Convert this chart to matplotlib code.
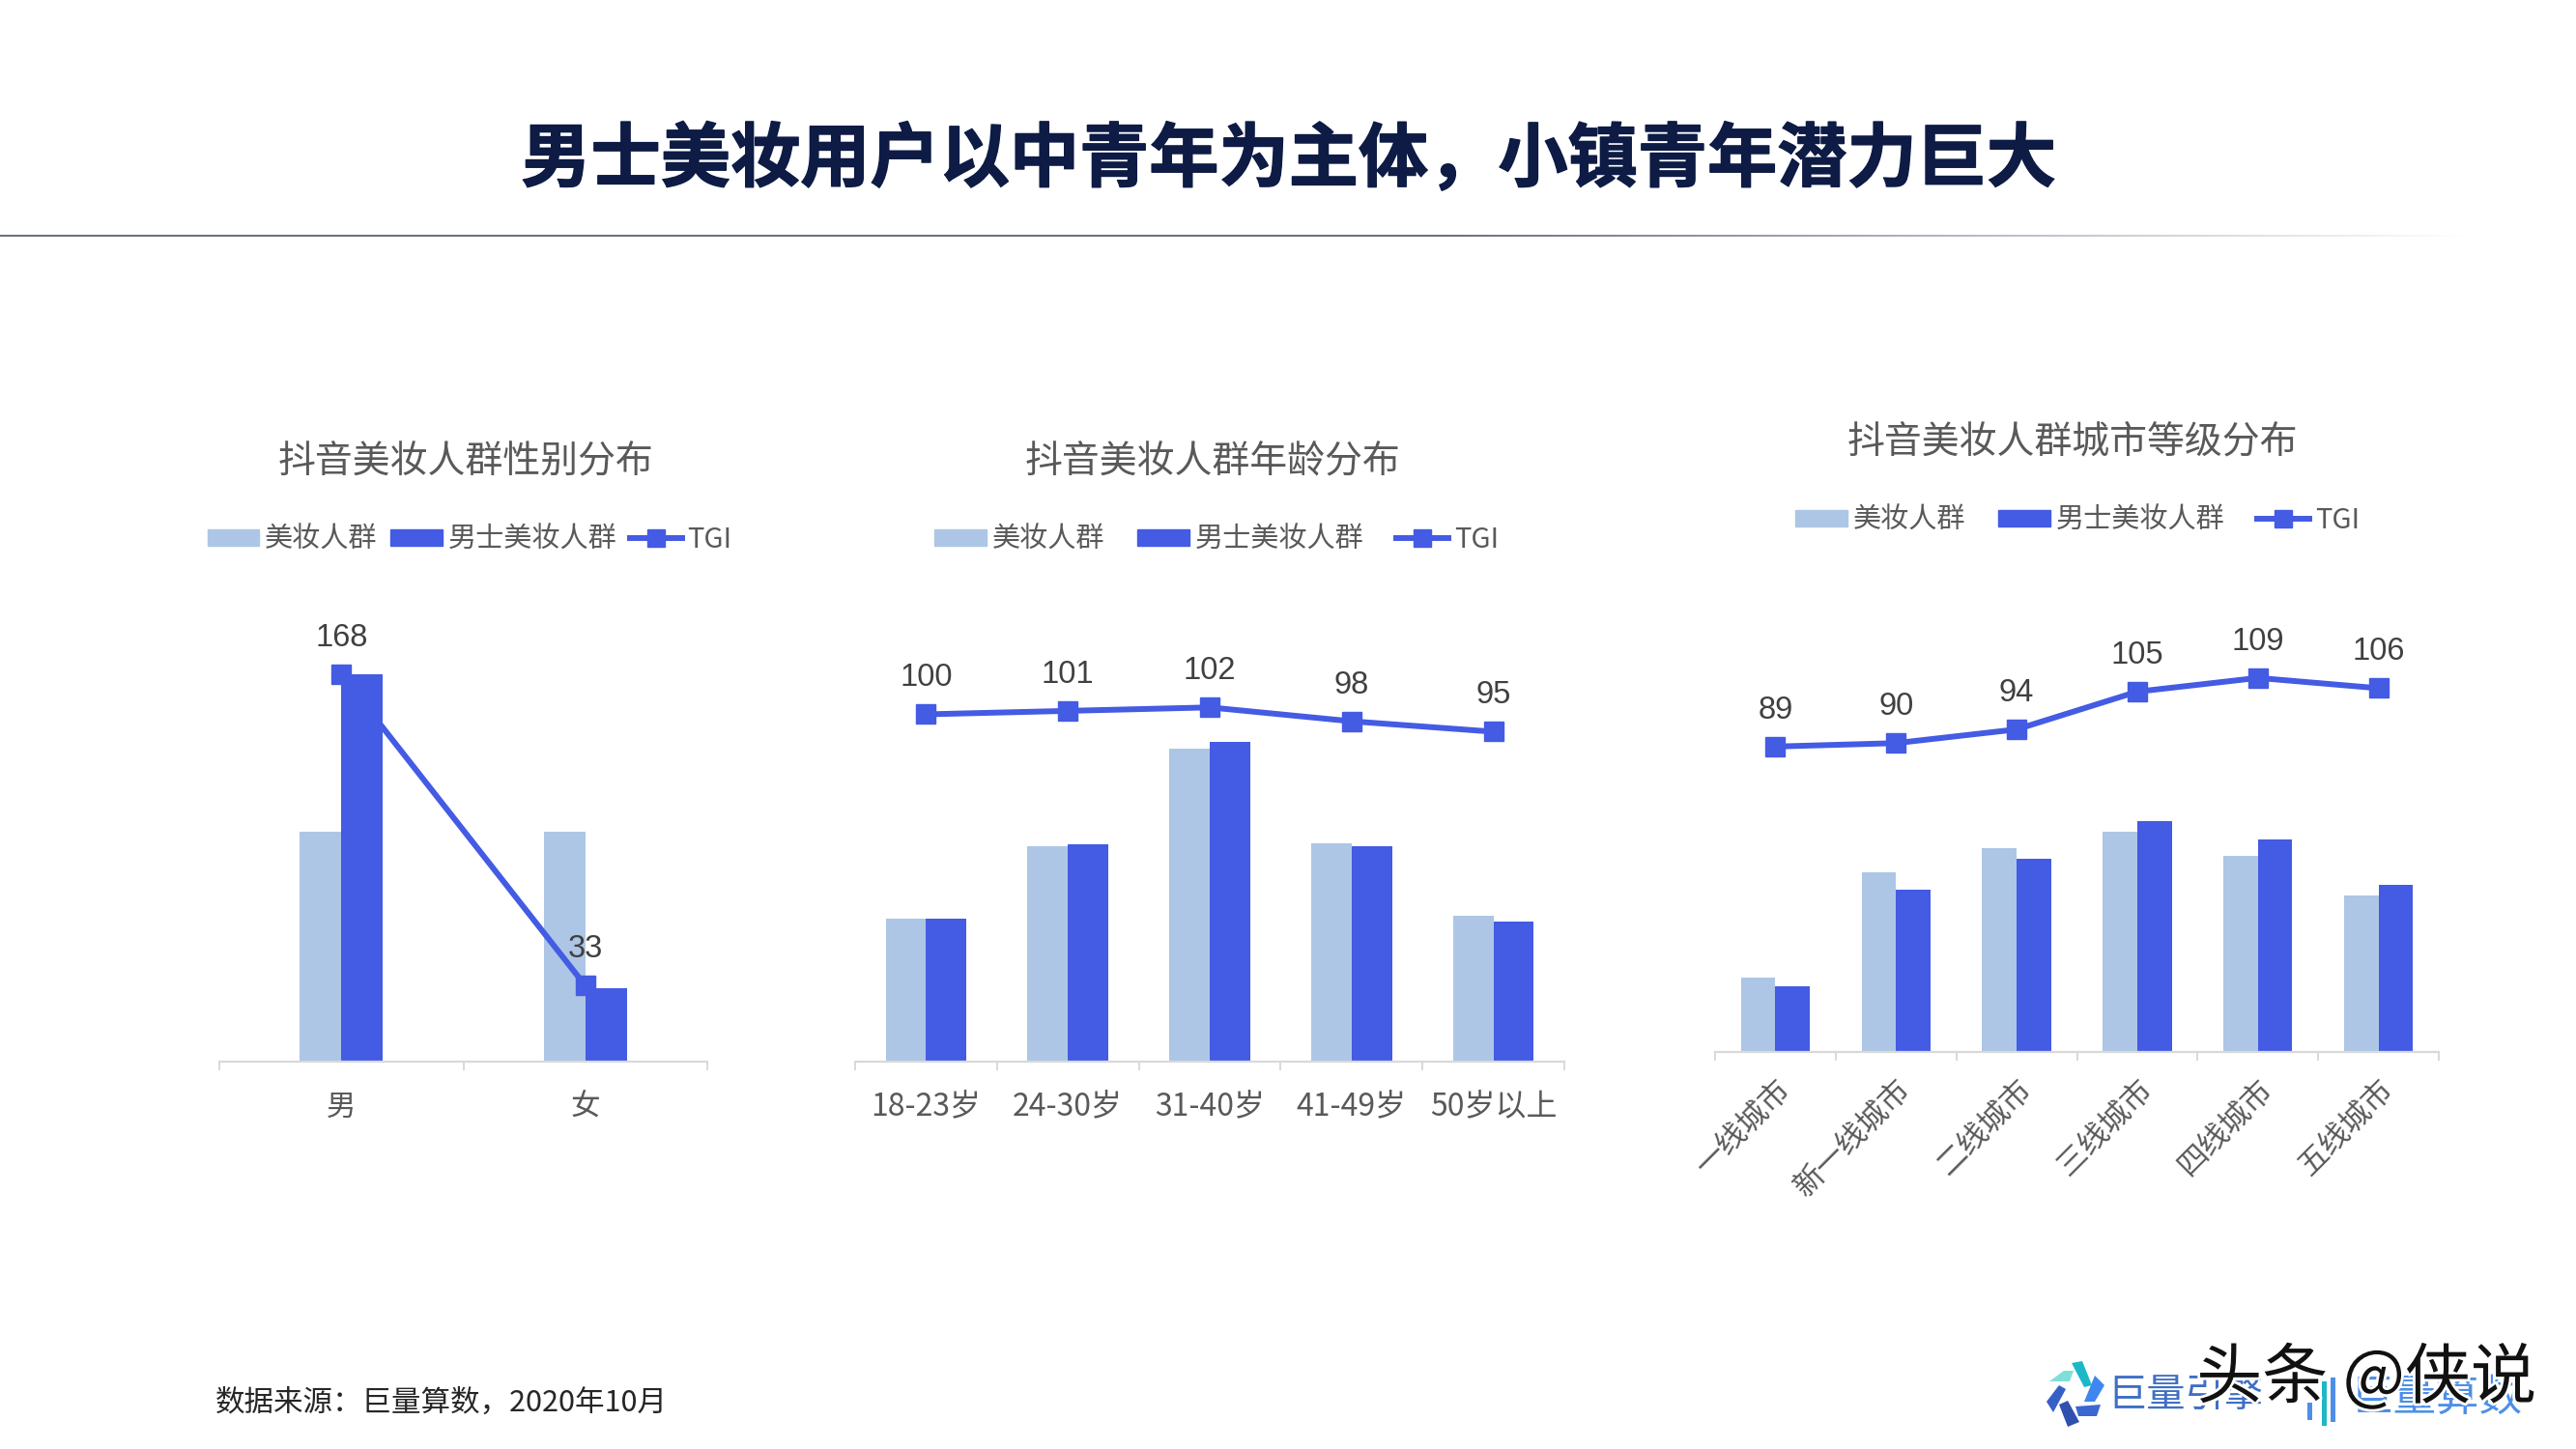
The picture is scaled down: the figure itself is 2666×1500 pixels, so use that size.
import matplotlib
matplotlib.use('Agg')
import matplotlib.pyplot as plt
import matplotlib.patheffects as pe
from matplotlib.lines import Line2D
from matplotlib.patches import Patch, Polygon, Rectangle
import numpy as np

plt.rcParams['font.family'] = ['Noto Sans CJK SC', 'DejaVu Sans']

# data
gender_cats = ['男', '女']
gender_all = [50, 50]
gender_men = [84, 16]
gender_tgi = [168, 33]

age_cats = ['18-23岁', '24-30岁', '31-40岁', '41-49岁', '50岁以上']
age_all = [13.8, 20.8, 30.2, 21.1, 14.1]
age_men = [13.8, 21.0, 30.8, 20.8, 13.5]
age_tgi = [100, 101, 102, 98, 95]

city_cats = ['一线城市', '新一线城市', '二线城市', '三线城市', '四线城市', '五线城市']
city_all = [7.2, 17.4, 19.8, 21.4, 19.0, 15.2]
city_men = [6.4, 15.7, 18.7, 22.4, 20.6, 16.2]
city_tgi = [89, 90, 94, 105, 109, 106]

LIGHT = '#adc6e5'
BLUE = '#445be3'
TEXT = '#595959'
GRID = '#d9d9d9'

W, H = 2666, 1500
fig = plt.figure(figsize=(W / 100, H / 100), dpi=100, facecolor='white')

# overlay in pixel coordinates for the slide furniture
bg = fig.add_axes([0, 0, 1, 1], zorder=0)
bg.axis('off')

# header rule, solid on the left and fading out to the right
rule = np.ones((1, 800, 4))
rule[..., 0] = 0x6b / 255
rule[..., 1] = 0x6f / 255
rule[..., 2] = 0x85 / 255
rule[..., 3] = np.clip((2560 - np.linspace(0, 2560, 800)) / (2560 - 1500), 0, 1)
bg.imshow(rule, extent=[0, 2560, 245.5, 244], aspect='auto')
bg.set_xlim(0, W)
bg.set_ylim(H, 0)

bg.text(1334, 166, '男士美妆用户以中青年为主体，小镇青年潜力巨大', fontsize=52, fontweight=900,
        color='#0d1b45', ha='center', va='center',
        path_effects=[pe.withStroke(linewidth=1, foreground='#0d1b45')])
bg.text(223, 1452, '数据来源：巨量算数，2020年10月', fontsize=22, color='#262626', ha='left', va='center')


def panel(left, right, base, top, cats, all_vals, men_vals, tgi, bar_max, tgi_max, bar_w, title, title_y,
          legend_x, legend_y, col_space, tick_size, tick_pad, rotate=False):
    ax = fig.add_axes([left / W, 1 - base / H, (right - left) / W, (base - top) / H], zorder=2)
    ax.patch.set_alpha(0)
    x = np.arange(len(cats))
    ax.bar(x - bar_w / 2, all_vals, bar_w, color=LIGHT)
    ax.bar(x + bar_w / 2, men_vals, bar_w, color=BLUE)
    ax.set_xlim(-0.5, len(cats) - 0.5)
    ax.set_ylim(0, bar_max)
    ax.set_yticks([])
    for s in ['top', 'left', 'right']:
        ax.spines[s].set_visible(False)
    ax.spines['bottom'].set_color(GRID)
    ax.spines['bottom'].set_linewidth(1.6)
    ax.set_xticks(x)
    ax.set_xticks(np.arange(len(cats) + 1) - 0.5, minor=True)
    ax.tick_params(axis='x', which='minor', length=6.5, width=1.4, color=GRID)
    ax.tick_params(axis='x', which='major', length=0, pad=tick_pad, labelsize=tick_size, labelcolor=TEXT)
    if rotate:
        ax.set_xticklabels(cats, rotation=45, ha='right', rotation_mode='anchor')
    else:
        ax.set_xticklabels(cats)

    ax2 = ax.twinx()
    ax2.patch.set_alpha(0)
    ax2.plot(x, tgi, color=BLUE, lw=4.3, marker='s', ms=14.5, clip_on=False)
    ax2.set_ylim(0, tgi_max)
    ax2.set_yticks([])
    for s in ax2.spines.values():
        s.set_visible(False)
    for xi, v in zip(x, tgi):
        ax2.annotate(str(v), (xi, v), xytext=(0, 27), textcoords='offset points', ha='center', va='center',
                     fontsize=23.5, color='#404040', family='Liberation Sans', annotation_clip=False)

    bg.text(title[1], title_y, title[0], fontsize=28, color=TEXT, ha='center', va='center')

    handles = [Patch(color=LIGHT, label='美妆人群'), Patch(color=BLUE, label='男士美妆人群'),
               Line2D([], [], color=BLUE, lw=4.3, marker='s', ms=13, label='TGI')]
    fig.legend(handles=handles, ncol=3, loc='center', bbox_to_anchor=(legend_x / W, 1 - legend_y / H),
               frameon=False, fontsize=21, labelcolor=TEXT, handlelength=1.85, handleheight=0.55,
               handletextpad=0.2, columnspacing=col_space, borderpad=0, borderaxespad=0)


panel(227, 732, 1099, 646, gender_cats, gender_all, gender_men, gender_tgi, 95, 190, 0.17,
      ('抖音美妆人群性别分布', 482), 478, 486, 559, 0.45, 22, 23)
panel(885, 1619, 1099, 646, age_cats, age_all, age_men, age_tgi, 42.2, 126, 0.285,
      ('抖音美妆人群年龄分布', 1255), 478, 1259, 559, 1.15, 23, 22)
panel(1775, 2524, 1089, 646, city_cats, city_all, city_men, city_tgi, 41.5, 124.7, 0.286,
      ('抖音美妆人群城市等级分布', 2145), 457, 2150, 539, 1.15, 22.5, 17, rotate=True)

# logos bottom right
logo_shapes = [
    ([(2121, 1430), (2136, 1419), (2146, 1419), (2142, 1430)], '#7fe0d8'),
    ([(2144, 1411), (2155, 1409), (2165, 1434), (2157, 1436)], '#1cb8c8'),
    ([(2168, 1424), (2178, 1434), (2168, 1451), (2157, 1451)], '#3f86f0'),
    ([(2118, 1451), (2131, 1434), (2138, 1438), (2125, 1462)], '#3560c8'),
    ([(2131, 1454), (2140, 1450), (2152, 1472), (2140, 1477)], '#3050b0'),
    ([(2148, 1456), (2174, 1454), (2170, 1466), (2151, 1466)], '#3a68d0'),
]
for pts, col in logo_shapes:
    bg.add_patch(Polygon(pts, closed=True, color=col, lw=0))
bg.text(2262, 1445, '巨量引擎', fontsize=29, color='#3f6fc4', ha='center', va='center')
for bx, y0, y1, col in [(2388, 1452, 1470, '#4d8fe8'), (2403, 1430, 1476, '#1cb8c8'), (2412, 1426, 1472, '#4d8fe8')]:
    bg.add_patch(Rectangle((bx, y0), 5, y1 - y0, color=col, lw=0))
bg.text(2522, 1447, '巨量算数', fontsize=32, color='#4d8fe8', ha='center', va='center')

# watermark on top of the logos
fig.text(2449 / W, 1 - 1428 / H, '头条 @侠说', fontsize=49, color='#111111', ha='center',
         va='center', zorder=5, path_effects=[pe.withStroke(linewidth=4, foreground='white')])

fig.savefig('out.png', dpi=100, facecolor='white')
plt.close()
